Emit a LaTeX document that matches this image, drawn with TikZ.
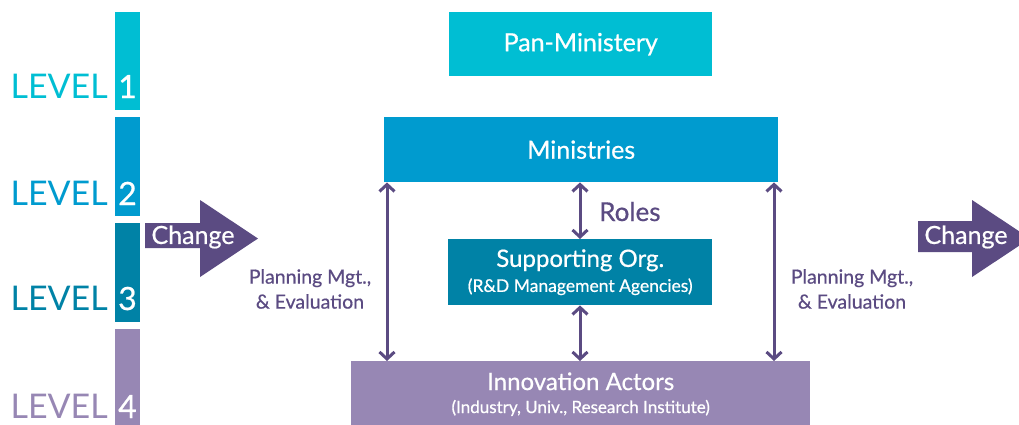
\documentclass[tikz,border=0pt]{standalone}
\usepackage{fontspec}
\setmainfont{Lato}
\newfontfamily\medfont[FakeBold=0.6]{Lato}
\usetikzlibrary{arrows.meta}
\definecolor{cA}{RGB}{0,190,211}
\definecolor{cB}{RGB}{0,155,207}
\definecolor{cC}{RGB}{0,130,166}
\definecolor{cD}{RGB}{151,135,180}
\definecolor{pu}{RGB}{91,75,130}
\tikzset{
  box/.style={fill=#1, draw=none, inner sep=0pt, anchor=north west, text=white, align=center},
  bar/.style={fill=#1, draw=none, inner sep=0pt, anchor=north west, minimum width=25pt},
  lvl/.style={text=#1, anchor=base east, inner sep=0pt, font=\fontsize{34}{34}\selectfont},
  num/.style={text=white, anchor=base, inner sep=0pt, font=\medfont\fontsize{32}{32}\selectfont},
  dbl/.style={draw=pu, line width=3pt, {Straight Barb[length=7pt,width=15pt]}-{Straight Barb[length=7pt,width=15pt]}},
  lbl/.style={text=pu, align=center, inner sep=0pt, font=\medfont\fontsize{19.5}{25}\selectfont},
  chg/.style={text=white, inner sep=0pt, font=\medfont\fontsize{25}{25}\selectfont}
}
\begin{document}
\begin{tikzpicture}[x=1pt,y=-1pt]
\useasboundingbox (0,0) rectangle (1019,424);
% level bars
\node[bar=cA, minimum height=98pt] (b1) at (115,12) {};
\node[bar=cB, minimum height=99pt] (b2) at (115,117) {};
\node[bar=cC, minimum height=99pt] (b3) at (115,223) {};
\node[bar=cD, minimum height=96pt] (b4) at (115,329) {};
\node[lvl=cA] (l1) at (108,98) {LEVEL};
\node[lvl=cB] (l2) at (108,205) {LEVEL};
\node[lvl=cC] (l3) at (108,310) {LEVEL};
\node[lvl=cD] (l4) at (108,418) {LEVEL};
\node[num] (n1) at (127.5,98) {1};
\node[num] (n2) at (127.5,205) {2};
\node[num] (n3) at (127.5,310) {3};
\node[num] (n4) at (127.5,418) {4};
% change arrows
\fill[pu] (145,223) -- (200,223) -- (200,200) -- (258,238.5) -- (200,277) -- (200,248) -- (145,248) -- cycle;
\node[chg] (c1) at (193,237) {Change};
\fill[pu] (918,221) -- (972,221) -- (972,200) -- (1030,238.5) -- (972,277) -- (972,252) -- (918,252) -- cycle;
\node[chg] (c2) at (966,237) {Change};
% boxes
\node[box=cA, minimum width=263pt, minimum height=64pt, font=\medfont\fontsize{25}{25}\selectfont] (pan) at (449,12) {Pan-Ministery};
\node[box=cB, minimum width=394pt, minimum height=65pt, font=\medfont\fontsize{25}{25}\selectfont] (min) at (384,117) {Ministries};
\node[box=cC, minimum width=264pt, minimum height=66pt, font=\medfont\fontsize{24}{25}\selectfont] (sup) at (448,239) {Supporting Org.\\{\fontsize{17.5}{18}\selectfont (R\&D Management Agencies)}};
\node[box=cD, minimum width=459pt, minimum height=66pt, font=\medfont\fontsize{24}{23}\selectfont] (inn) at (351,361) {Innovation Actors\\{\fontsize{17}{18}\selectfont (Industry, Univ., Research Institute)}};
% arrows
\coordinate (xa) at (387,0);
\coordinate (xb) at (580,0);
\coordinate (xc) at (774,0);
\draw[dbl] (min.south -| xa) -- (inn.north -| xa);
\draw[dbl] (min.south -| xc) -- (inn.north -| xc);
\draw[dbl] (min.south -| xb) -- (sup.north -| xb);
\draw[dbl] (sup.south -| xb) -- (inn.north -| xb);
\node[lbl, anchor=base west, font=\medfont\fontsize{26}{26}\selectfont] (roles) at (599,221) {Roles};
\node[lbl] (pl) at (310,289) {Planning Mgt.,\\ \& Evaluation};
\node[lbl] (pr) at (852,289) {Planning Mgt.,\\ \& Evaluation};
\end{tikzpicture}
\end{document}
